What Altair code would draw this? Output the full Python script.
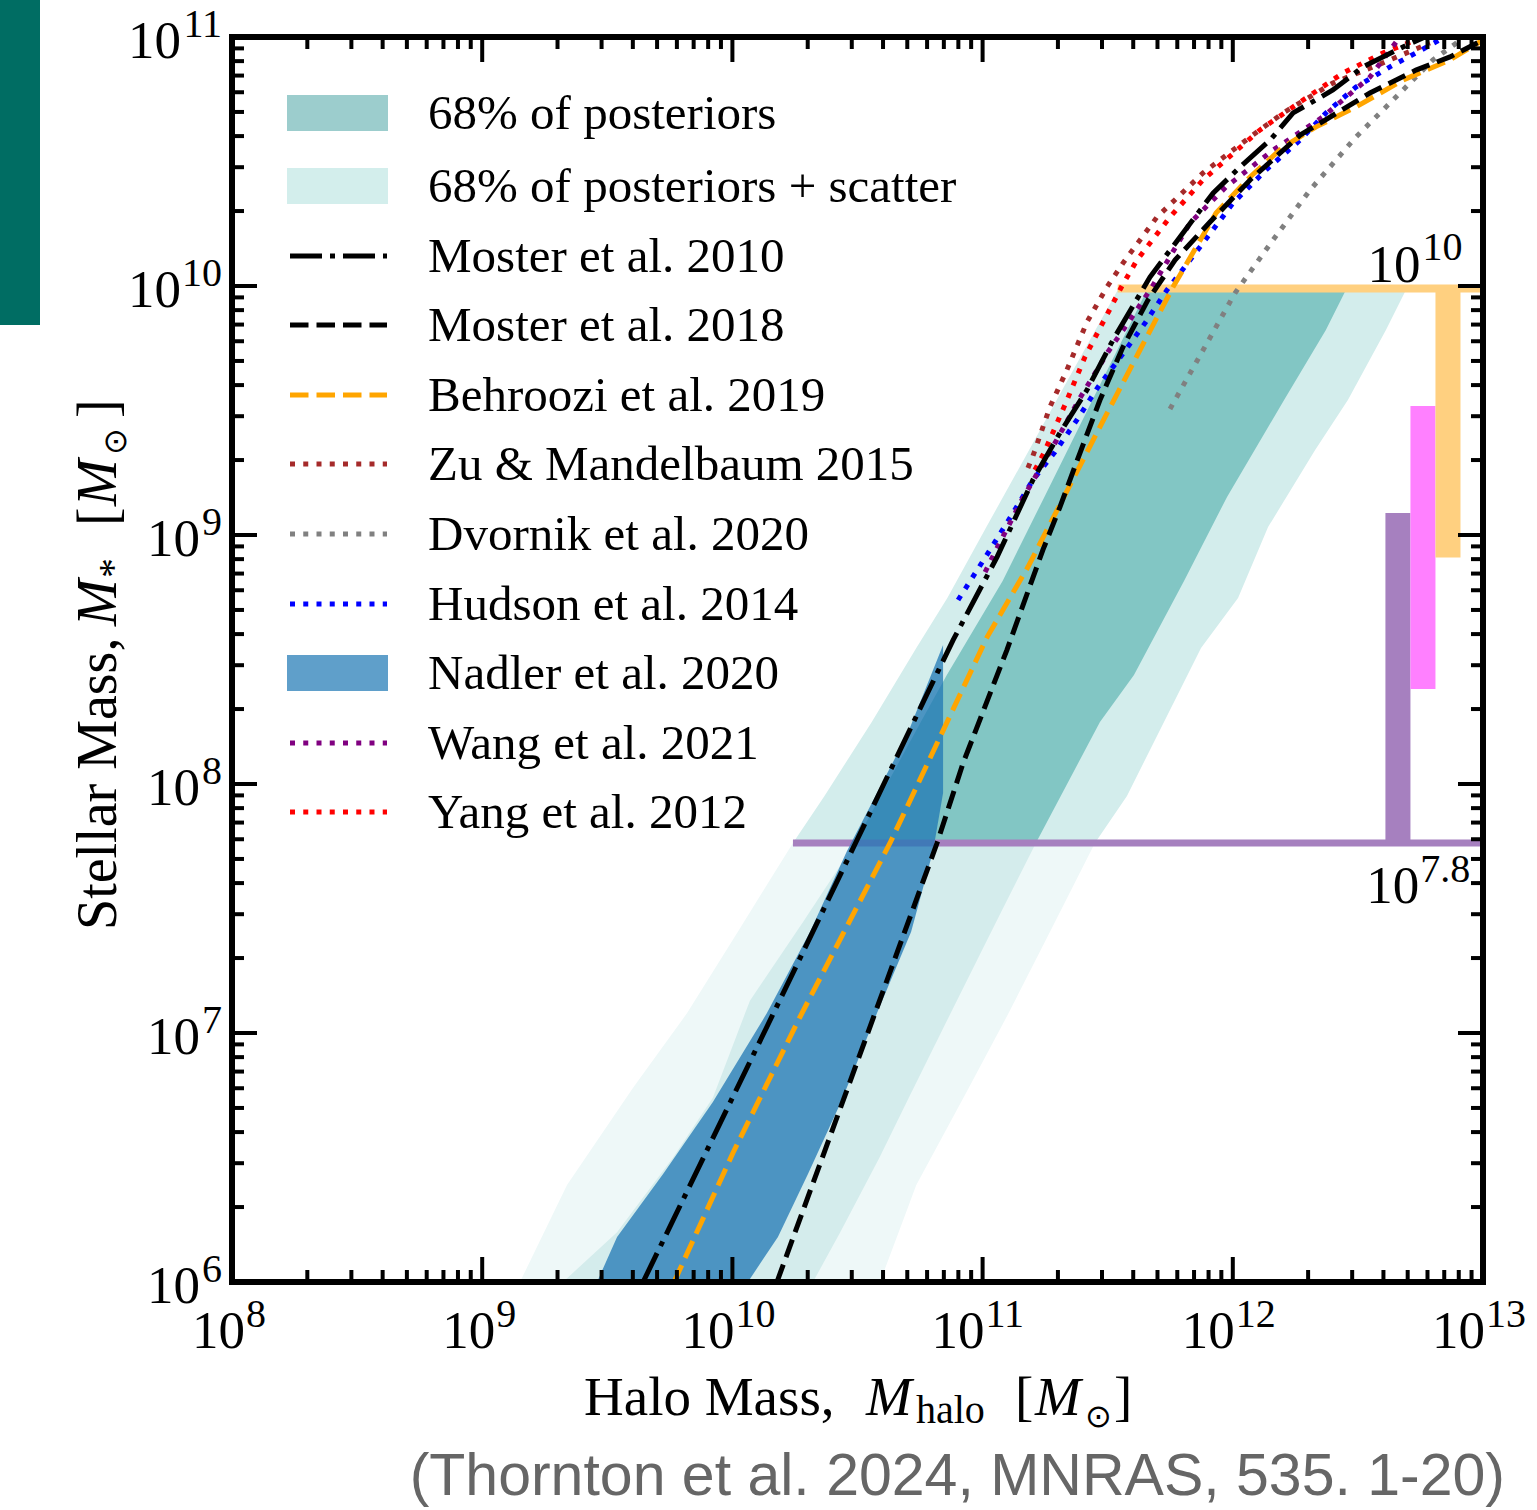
import altair as alt
import numpy as np
import pandas as pd

# ---------------- data (log10 of masses) ----------------
# Moster et al. 2010 (dash-dot, black)
moster10_lx = [9.643, 10.190, 10.498, 10.722, 10.882, 11.058, 11.201, 11.309, 11.417, 11.521, 11.669, 11.789,
               11.921, 12.029, 12.149, 12.241, 12.400, 12.520, 12.680, 12.768]
moster10_ly = [6.000, 7.133, 7.775, 8.245, 8.578, 8.912, 9.221, 9.410, 9.582, 9.783, 10.036, 10.197,
               10.373, 10.478, 10.586, 10.695, 10.787, 10.880, 10.960, 11.000]
# Moster et al. 2018 (dashed, black)
moster18_lx = [10.178, 10.818, 10.922, 11.097, 11.241, 11.309, 11.389, 11.469, 11.561, 11.661, 11.769, 11.909,
               12.069, 12.269, 12.548, 12.732, 12.868, 13.000]
moster18_ly = [6.000, 7.763, 8.084, 8.538, 8.940, 9.112, 9.329, 9.542, 9.755, 9.944, 10.104, 10.257,
               10.426, 10.606, 10.775, 10.867, 10.920, 10.988]
# Behroozi et al. 2019 (dashed, orange)
behroozi_lx = [9.767, 10.002, 10.270, 10.630, 10.830, 11.018, 11.181, 11.321, 11.469, 11.629, 11.761, 11.933,
               12.069, 12.201, 12.333, 12.492, 12.680, 12.868, 13.000]
behroozi_ly = [6.000, 6.518, 7.064, 7.763, 8.189, 8.590, 8.871, 9.145, 9.434, 9.743, 9.996, 10.293,
               10.438, 10.558, 10.639, 10.719, 10.827, 10.908, 10.988]
# Zu & Mandelbaum 2015 (dotted, brown)
zu_lx = [11.181, 11.201, 11.269, 11.337, 11.417, 11.497, 11.561, 11.697, 11.881, 12.069, 12.201, 12.400,
         12.600, 12.788]
zu_ly = [9.269, 9.317, 9.514, 9.663, 9.855, 9.996, 10.092, 10.277, 10.454, 10.598, 10.695, 10.815,
         10.896, 10.976]
# Dvornik et al. 2020 (dotted, gray)
dvornik_lx = [11.749, 11.877, 12.009, 12.161, 12.309, 12.492, 12.668, 12.800, 12.928]
dvornik_ly = [9.506, 9.735, 9.972, 10.185, 10.386, 10.598, 10.775, 10.908, 11.000]
# Hudson et al. 2014 (dotted, blue)
hudson_lx = [10.902, 11.022, 11.109, 11.201, 11.289, 11.377, 11.461, 11.557, 11.649, 11.737, 11.869, 12.001,
             12.133, 12.269, 12.372, 12.492, 12.628, 12.732, 12.848]
hudson_ly = [8.739, 8.928, 9.068, 9.221, 9.333, 9.462, 9.594, 9.723, 9.851, 9.984, 10.157, 10.333,
             10.466, 10.586, 10.695, 10.799, 10.880, 10.936, 11.000]
# Wang et al. 2021 (dotted, purple)
wang_lx = [11.010, 11.058, 11.157, 11.289, 11.389, 11.501, 11.589, 11.677, 11.829, 11.973, 12.161, 12.360,
           12.548, 12.668]
wang_ly = [8.851, 8.948, 9.141, 9.369, 9.550, 9.735, 9.863, 9.996, 10.253, 10.398, 10.546, 10.679,
           10.839, 11.000]
# Yang et al. 2012 (dotted, red)
yang_lx = [11.209, 11.245, 11.329, 11.409, 11.557, 11.617, 11.749, 11.881, 12.109, 12.281, 12.440, 12.600, 12.732]
yang_ly = [9.261, 9.329, 9.522, 9.715, 10.000, 10.104, 10.277, 10.426, 10.627, 10.747, 10.855, 10.936, 10.988]

# Posterior bands: log M* levels with left/right log Mhalo edges
up_out_ly = [7.763, 7.952, 8.249, 8.546, 8.747, 9.032, 9.341, 9.542, 9.823, 10.0]
up_out_lo = [10.242, 10.368, 10.557, 10.735, 10.859, 11.015, 11.186, 11.296, 11.451, 11.549]
up_out_hi = [11.449, 11.577, 11.725, 11.873, 12.021, 12.141, 12.329, 12.460, 12.612, 12.700]

up_in_ly = [7.763, 8.249, 8.438, 8.815, 9.153, 9.542, 9.823, 10.0]
up_in_lo = [10.490, 10.753, 10.857, 11.080, 11.247, 11.439, 11.578, 11.665]
up_in_hi = [11.213, 11.469, 11.605, 11.805, 11.977, 12.205, 12.372, 12.460]

lo_out_ly = [6.0, 6.39, 6.78, 7.08, 7.42, 7.763]
lo_out_lo = [9.151, 9.339, 9.603, 9.819, 10.030, 10.242]
lo_out_hi = [10.590, 10.735, 10.945, 11.104, 11.276, 11.449]

lo_in_ly = [6.0, 6.2, 6.5, 6.74, 7.13, 7.45, 7.763]
lo_in_lo = [9.323, 9.539, 9.763, 9.922, 10.070, 10.285, 10.490]
lo_in_hi = [10.322, 10.431, 10.588, 10.705, 10.897, 11.056, 11.213]

# Nadler et al. 2020 band
nadler_ly = [6.000, 6.181, 6.434, 6.723, 7.080, 7.406, 7.731, 7.964, 8.197, 8.558]
nadler_lo = [9.459, 9.539, 9.723, 9.922, 10.138, 10.310, 10.458, 10.578, 10.698, 10.842]
nadler_hi = [10.062, 10.182, 10.302, 10.434, 10.578, 10.714, 10.802, 10.842, 10.842, 10.842]

# limit markers (log values)
limit_lo_ly = 7.763      # 10^7.8 resolution line
limit_lo_lx0 = 10.242
limit_hi_ly = 9.99       # 10^10 line
limit_hi_lx0 = 11.54
bars_lx0 = [12.61, 12.71, 12.81]
bars_lx1 = [12.71, 12.81, 12.91]
bars_ly0 = [7.763, 8.382, 8.91]
bars_ly1 = [9.088, 9.518, 10.0]
bars_col = ["#a680bf", "#ff80ff", "#ffd080"]

x_major_exp = [8, 9, 10, 11, 12, 13]
y_major_exp = [6, 7, 8, 9, 10, 11]
minor_mult = [2, 3, 4, 5, 6, 7, 8, 9]

legend_labels = ["68% of posteriors", "68% of posteriors + scatter", "Moster et al. 2010",
                 "Moster et al. 2018", "Behroozi et al. 2019", "Zu & Mandelbaum 2015",
                 "Dvornik et al. 2020", "Hudson et al. 2014", "Nadler et al. 2020",
                 "Wang et al. 2021", "Yang et al. 2012"]

# ---------------- layout ----------------
W, H = 1251, 1245
SERIF = "Liberation Serif"
BASE, EXP = 53, 40
xs = alt.Scale(type="log", domain=[1e8, 1e13], nice=False)
ys = alt.Scale(type="log", domain=[1e6, 1e11], nice=False)
one = pd.DataFrame({"a": [0]})

layers = []


def band(ly, lo, hi, color, opacity=1.0):
    df = pd.DataFrame({"ms": 10 ** np.array(ly), "lo": 10 ** np.array(lo), "hi": 10 ** np.array(hi)})
    return alt.Chart(df).mark_area(orient="horizontal", color=color, opacity=opacity, clip=True).encode(
        y=alt.Y("ms:Q", scale=ys, axis=None),
        x=alt.X("lo:Q", scale=xs, axis=None),
        x2="hi:Q",
    )


def curve(lx, ly, color, dash):
    df = pd.DataFrame({"mh": 10 ** np.array(lx), "ms": 10 ** np.array(ly), "i": np.arange(len(lx))})
    return alt.Chart(df).mark_line(color=color, strokeWidth=5, strokeDash=dash, strokeCap="butt",
                                   clip=True).encode(
        x=alt.X("mh:Q", scale=xs, axis=None),
        y=alt.Y("ms:Q", scale=ys, axis=None),
        order="i:Q",
    )


layers.append(band(lo_out_ly, lo_out_lo, lo_out_hi, "#eef8f8"))
layers.append(band(lo_in_ly, lo_in_lo, lo_in_hi, "#d4ecec"))
layers.append(band(up_out_ly, up_out_lo, up_out_hi, "#d3edec"))
layers.append(band(up_in_ly, up_in_lo, up_in_hi, "#82c6c4"))

# purple resolution line
layers.append(alt.Chart(pd.DataFrame({"x0": [10 ** limit_lo_lx0], "x1": [1e13], "y": [10 ** limit_lo_ly]}))
              .mark_rule(color="#a680bf", strokeWidth=7).encode(
    x=alt.X("x0:Q", scale=xs, axis=None), x2="x1:Q", y=alt.Y("y:Q", scale=ys, axis=None)))

# Nadler band
layers.append(band(nadler_ly, nadler_lo, nadler_hi, "#1f77b4", 0.75))

# orange 10^10 bar
layers.append(alt.Chart(pd.DataFrame({"x0": [10 ** limit_hi_lx0], "x1": [1e13], "y": [10 ** limit_hi_ly]}))
              .mark_rule(color="#ffd080", strokeWidth=8).encode(
    x=alt.X("x0:Q", scale=xs, axis=None), x2="x1:Q", y=alt.Y("y:Q", scale=ys, axis=None)))

# vertical bars
bars = pd.DataFrame({"x0": 10 ** np.array(bars_lx0), "x1": 10 ** np.array(bars_lx1),
                     "y0": 10 ** np.array(bars_ly0), "y1": 10 ** np.array(bars_ly1), "c": bars_col})
layers.append(alt.Chart(bars).mark_rect().encode(
    x=alt.X("x0:Q", scale=xs, axis=None), x2="x1:Q",
    y=alt.Y("y0:Q", scale=ys, axis=None), y2="y1:Q",
    color=alt.Color("c:N", scale=None)))

DASHDOT = [32, 8, 5, 8]
DASHED = [18.5, 8]
DOTTED = [5, 8.25]
layers.append(curve(dvornik_lx, dvornik_ly, "#808080", DOTTED))
layers.append(curve(zu_lx, zu_ly, "#a52a2a", DOTTED))
layers.append(curve(yang_lx, yang_ly, "#ff0000", DOTTED))
layers.append(curve(hudson_lx, hudson_ly, "#0000ff", DOTTED))
layers.append(curve(wang_lx, wang_ly, "#800080", DOTTED))
layers.append(curve(behroozi_lx, behroozi_ly, "#ffa500", DASHED))
layers.append(curve(moster18_lx, moster18_ly, "#000000", DASHED))
layers.append(curve(moster10_lx, moster10_ly, "#000000", DASHDOT))

# annotations 10^10 and 10^7.8
ann = pd.DataFrame({"x": [10 ** 12.75], "y": [1e10]})
layers.append(alt.Chart(ann).mark_text(text="10", align="right", baseline="alphabetic", font=SERIF,
                                       fontSize=BASE, dy=-4).encode(
    x=alt.X("x:Q", scale=xs, axis=None), y=alt.Y("y:Q", scale=ys, axis=None)))
layers.append(alt.Chart(ann).mark_text(text="10", align="left", baseline="alphabetic", font=SERIF,
                                       fontSize=EXP, dx=2, dy=-26).encode(
    x=alt.X("x:Q", scale=xs, axis=None), y=alt.Y("y:Q", scale=ys, axis=None)))
ann2 = pd.DataFrame({"x": [10 ** 12.745], "y": [10 ** limit_lo_ly]})
layers.append(alt.Chart(ann2).mark_text(text="10", align="right", baseline="alphabetic", font=SERIF,
                                        fontSize=BASE, dy=60).encode(
    x=alt.X("x:Q", scale=xs, axis=None), y=alt.Y("y:Q", scale=ys, axis=None)))
layers.append(alt.Chart(ann2).mark_text(text="7.8", align="left", baseline="alphabetic", font=SERIF,
                                        fontSize=EXP, dx=1, dy=39).encode(
    x=alt.X("x:Q", scale=xs, axis=None), y=alt.Y("y:Q", scale=ys, axis=None)))

# ---------------- ticks (inward, all four sides) ----------------
xmaj = pd.DataFrame({"v": [10.0 ** e for e in x_major_exp]})
xmin = pd.DataFrame({"v": [k * 10.0 ** e for e in x_major_exp[:-1] for k in minor_mult]})
ymaj = pd.DataFrame({"v": [10.0 ** e for e in y_major_exp]})
ymin = pd.DataFrame({"v": [k * 10.0 ** e for e in y_major_exp[:-1] for k in minor_mult]})
for df, L in [(xmaj, 25), (xmin, 12)]:
    layers.append(alt.Chart(df).mark_rule(color="black", strokeWidth=4).encode(
        x=alt.X("v:Q", scale=xs, axis=None), y=alt.value(H), y2=alt.value(H - L)))
    layers.append(alt.Chart(df).mark_rule(color="black", strokeWidth=4).encode(
        x=alt.X("v:Q", scale=xs, axis=None), y=alt.value(0), y2=alt.value(L)))
for df, L in [(ymaj, 25), (ymin, 12)]:
    layers.append(alt.Chart(df).mark_rule(color="black", strokeWidth=4).encode(
        y=alt.Y("v:Q", scale=ys, axis=None), x=alt.value(0), x2=alt.value(L)))
    layers.append(alt.Chart(df).mark_rule(color="black", strokeWidth=4).encode(
        y=alt.Y("v:Q", scale=ys, axis=None), x=alt.value(W), x2=alt.value(W - L)))

# frame
layers.append(alt.Chart(one).mark_rect(fillOpacity=0, stroke="black", strokeWidth=6).encode(
    x=alt.value(0), x2=alt.value(W), y=alt.value(0), y2=alt.value(H)))

# ---------------- tick labels ----------------
for digits, dxb, dxe in [(1, 13, 14), (2, 2, 3)]:
    df = pd.DataFrame({"v": [10.0 ** e for e in x_major_exp if len(str(e)) == digits],
                       "e": [str(e) for e in x_major_exp if len(str(e)) == digits]})
    layers.append(alt.Chart(df).mark_text(text="10", align="right", baseline="alphabetic", font=SERIF,
                                          fontSize=BASE, dx=dxb).encode(
        x=alt.X("v:Q", scale=xs, axis=None), y=alt.value(H + 66)))
    layers.append(alt.Chart(df).mark_text(align="left", baseline="alphabetic", font=SERIF,
                                          fontSize=EXP, dx=dxe).encode(
        x=alt.X("v:Q", scale=xs, axis=None), y=alt.value(H + 45), text="e:N"))
for digits, xb in [(1, -32), (2, -51)]:
    df = pd.DataFrame({"v": [10.0 ** e for e in y_major_exp if len(str(e)) == digits],
                       "e": [str(e) for e in y_major_exp if len(str(e)) == digits]})
    layers.append(alt.Chart(df).mark_text(text="10", align="right", baseline="alphabetic", font=SERIF,
                                          fontSize=BASE, dy=21).encode(
        y=alt.Y("v:Q", scale=ys, axis=None), x=alt.value(xb)))
    layers.append(alt.Chart(df).mark_text(align="right", baseline="alphabetic", font=SERIF,
                                          fontSize=EXP).encode(
        y=alt.Y("v:Q", scale=ys, axis=None), x=alt.value(-10), text="e:N"))

# ---------------- legend ----------------
rows = [76, 149, 219, 288, 358, 427, 497, 567, 636, 706, 775]
leg = pd.DataFrame({"t": legend_labels, "py": [r + 16 for r in rows]})
layers.append(alt.Chart(leg).mark_text(align="left", baseline="alphabetic", font=SERIF, fontSize=49,
                                       color="black").encode(
    x=alt.value(196), y=alt.Y("py:Q", scale=None), text="t:N"))
for r, col in [(rows[0], "#9ccdcd"), (rows[1], "#d3eeec"), (rows[8], "#5f9fca")]:
    layers.append(alt.Chart(one).mark_rect(color=col).encode(
        x=alt.value(55), x2=alt.value(156), y=alt.value(r - 18), y2=alt.value(r + 18)))
for r, col, dash in [(rows[2], "#000000", DASHDOT), (rows[3], "#000000", DASHED), (rows[4], "#ffa500", DASHED),
                     (rows[5], "#a52a2a", DOTTED), (rows[6], "#808080", DOTTED), (rows[7], "#0000ff", DOTTED),
                     (rows[9], "#800080", DOTTED), (rows[10], "#ff0000", DOTTED)]:
    layers.append(alt.Chart(one).mark_rule(color=col, strokeWidth=5, strokeDash=dash, strokeCap="butt").encode(
        x=alt.value(58), x2=alt.value(155), y=alt.value(r)))

# ---------------- axis titles ----------------
def txt(s, x, y, size=55, style="normal", angle=0, color="black", font=SERIF, align="left"):
    return alt.Chart(one).mark_text(text=s, align=align, baseline="alphabetic", font=font, fontSize=size,
                                    fontStyle=style, angle=angle, color=color).encode(
        x=alt.value(x), y=alt.value(y))

# x title (abs -> rel: x-232, y-37)
layers += [
    txt("Halo Mass,", 584 - 232, 1378),
    txt("M", 866 - 232, 1378, style="italic"),
    txt("halo", 916 - 232, 1386, size=40),
    txt("[", 1015 - 232, 1378),
    txt("M", 1035 - 232, 1378, style="italic"),
    txt("\u2299", 1085 - 232, 1390, size=32),
    txt("]", 1114 - 232, 1378),
]
# y title (rotated)
YB = 116 - 232
layers += [
    txt("Stellar Mass,", YB, 930 - 37, size=56, angle=270),
    txt("M", YB, 626 - 37, size=56, angle=270, style="italic"),
    txt("*", YB + 10, 578 - 37, size=40, angle=270),
    txt("[", YB, 526 - 37, size=56, angle=270),
    txt("M", YB, 506 - 37, size=56, angle=270, style="italic"),
    txt("\u2299", YB + 10, 455 - 37, size=32, angle=270),
    txt("]", YB, 418 - 37, size=56, angle=270),
]

# citation
layers.append(txt("(Thornton et al. 2024, MNRAS, 535. 1-20)", 1505 - 232, 1495 - 37, size=59,
                  color="#666666", font="Liberation Sans", align="right"))
# decorative side bar
layers.append(alt.Chart(one).mark_rect(color="#006d63").encode(
    x=alt.value(-232), x2=alt.value(-192), y=alt.value(-37), y2=alt.value(288)))

chart = alt.layer(*layers).properties(
    width=W, height=H,
    padding={"left": 232, "top": 37, "right": 54, "bottom": 228},
    autosize=alt.AutoSizeParams(type="none"),
    background="white",
).configure_view(strokeWidth=0)

chart.save("out.html", embed_options={"renderer": "svg", "actions": False})
